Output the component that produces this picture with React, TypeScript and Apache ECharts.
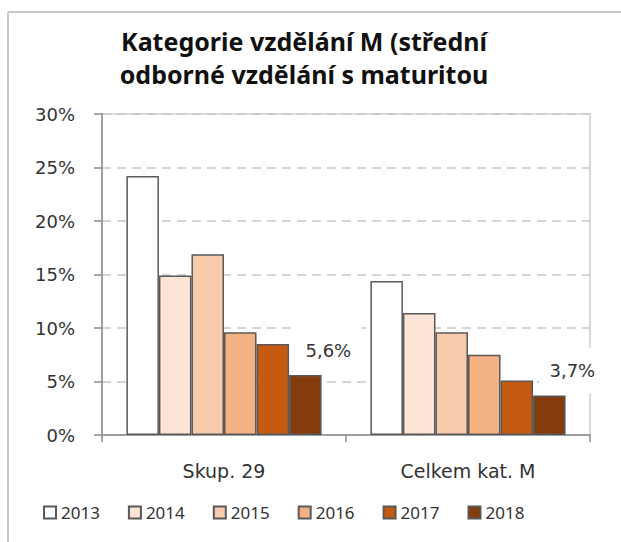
import React, { useEffect, useRef } from "react";
import * as echarts from "echarts";

const titleLines = ["Kategorie vzdělání M (střední", "odborné vzdělání s maturitou"];
const categories = ["Skup. 29", "Celkem kat. M"];
const years = ["2013", "2014", "2015", "2016", "2017", "2018"];
const colors = ["#FFFFFF", "#FCE4D6", "#F8CBAD", "#F4B183", "#C55A11", "#843C0C"];
const values: number[][] = [
  [0.242, 0.144],
  [0.149, 0.114],
  [0.169, 0.096],
  [0.096, 0.075],
  [0.085, 0.051],
  [0.056, 0.037],
];
const yTicks = { min: 0, max: 0.3, interval: 0.05 };

const AXIS_FONT = "DejaVu Sans";

export default function App() {
  const ref = useRef<HTMLDivElement>(null);
  useEffect(() => {
    if (!ref.current) return;
    const chart = echarts.init(ref.current, undefined, { renderer: "svg" });
    const series = years.map((y, i) => ({
      name: y,
      type: "bar",
      data: values[i],
      barGap: "0%",
      barCategoryGap: "20%",
      itemStyle: { color: colors[i], borderColor: "#595959", borderWidth: 1.5 },
      label:
        i === years.length - 1
          ? {
              show: true,
              position: "top",
              distance: 0,
              offset: [23, -2],
              formatter: (p: any) => (p.value * 100).toFixed(1).replace(".", ",") + "%",
              fontFamily: AXIS_FONT,
              fontSize: 18,
              color: "#333",
              backgroundColor: "#fff",
              padding: [14, 10, 14, 10],
            }
          : { show: false },
    }));
    chart.setOption({
      animation: false,
      backgroundColor: "#fff",
      graphic: [
        {
          type: "line",
          shape: { x1: 8, y1: 12, x2: 621, y2: 12 },
          style: { stroke: "#c8c8c8", lineWidth: 2 },
        },
        {
          type: "line",
          shape: { x1: 8, y1: 12, x2: 8, y2: 542 },
          style: { stroke: "#c8c8c8", lineWidth: 2 },
        },
        {
          type: "text",
          x: 304,
          y: 24,
          style: {
            text: titleLines.join("\n"),
            textAlign: "center",
            fontFamily: "Noto Sans",
            fontWeight: "bold",
            fontSize: 25,
            lineHeight: 33,
            fill: "#111",
          },
        },
      ],
      grid: {
        left: 102,
        top: 114,
        right: 31,
        bottom: 107,
        show: true,
        borderColor: "#cfcfcf",
        borderWidth: 1.5,
      },
      legend: {
        data: years,
        left: 43,
        top: 504,
        padding: 0,
        icon: "rect",
        itemWidth: 12,
        itemHeight: 12,
        itemGap: 28,
        textStyle: { fontFamily: "Noto Sans", fontSize: 17, color: "#333" },
      },
      xAxis: {
        type: "category",
        data: categories,
        axisLine: { lineStyle: { color: "#8c8c8c", width: 1.5 } },
        axisTick: { show: true, length: 7, lineStyle: { color: "#8c8c8c", width: 1.5 } },
        axisLabel: { fontFamily: AXIS_FONT, fontSize: 19, color: "#333", margin: 26 },
      },
      yAxis: {
        type: "value",
        min: yTicks.min,
        max: yTicks.max,
        interval: yTicks.interval,
        axisLine: { show: true, lineStyle: { color: "#8c8c8c", width: 1.5 } },
        axisTick: { show: true, length: 8, lineStyle: { color: "#8c8c8c", width: 1.5 } },
        axisLabel: {
          fontFamily: AXIS_FONT,
          fontSize: 18,
          color: "#333",
          margin: 27,
          formatter: (v: number) => Math.round(v * 100) + "%",
        },
        splitLine: {
          show: true,
          lineStyle: { color: "#c8c8c8", width: 1.5, type: [9, 6] },
        },
      },
      series,
    });
    return () => chart.dispose();
  }, []);
  return (
    <div
      ref={ref}
      style={{ position: "absolute", left: 0, top: 0, width: 621, height: 542 }}
    />
  );
}
